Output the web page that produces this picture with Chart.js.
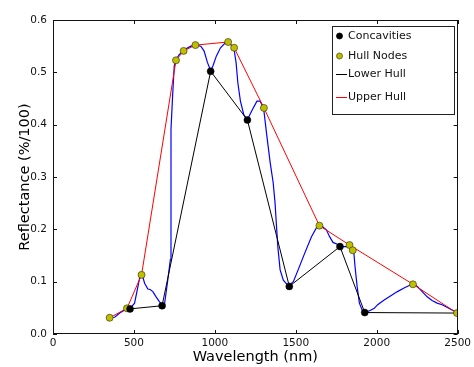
<!DOCTYPE html>
<html>
<head>
<meta charset="utf-8">
<script src="https://cdn.jsdelivr.net/npm/chart.js@4/dist/chart.umd.min.js"></script>
<style>
  html, body { margin: 0; padding: 0; background: #fff; }
  canvas { display: block; }
</style>
</head>
<body>
<canvas id="c" width="474" height="367"></canvas>
<script>
// Reflectance spectrum (wavelength in nm, reflectance as fraction)
const specNm = [350, 381, 412, 443, 474, 504, 525, 539, 551, 566, 586, 600, 617, 637, 657, 674, 688, 707, 725, 729, 739, 749, 760, 780, 811, 852, 882, 913, 933, 954, 974, 988, 1009, 1035, 1066, 1086, 1117, 1131, 1142, 1158, 1178, 1200, 1229, 1260, 1280, 1301, 1321, 1342, 1360, 1372, 1380, 1389, 1403, 1423, 1454, 1485, 1515, 1556, 1597, 1638, 1658, 1689, 1709, 1730, 1760, 1791, 1822, 1842, 1858, 1866, 1879, 1893, 1914, 1926, 1944, 1965, 1985, 2006, 2046, 2087, 2128, 2169, 2210, 2226, 2251, 2281, 2312, 2342, 2373, 2404, 2434, 2465, 2496];
const specR  = [0.031, 0.032, 0.040, 0.046, 0.048, 0.059, 0.091, 0.113, 0.113, 0.097, 0.086, 0.085, 0.081, 0.071, 0.062, 0.056, 0.055, 0.098, 0.142, 0.391, 0.455, 0.512, 0.524, 0.534, 0.543, 0.550, 0.552, 0.550, 0.541, 0.519, 0.503, 0.512, 0.531, 0.547, 0.557, 0.557, 0.547, 0.519, 0.480, 0.445, 0.420, 0.409, 0.427, 0.445, 0.445, 0.432, 0.379, 0.327, 0.290, 0.250, 0.210, 0.167, 0.123, 0.103, 0.092, 0.100, 0.123, 0.155, 0.186, 0.209, 0.207, 0.199, 0.186, 0.175, 0.171, 0.167, 0.167, 0.169, 0.158, 0.129, 0.091, 0.059, 0.043, 0.041, 0.043, 0.046, 0.049, 0.056, 0.065, 0.073, 0.081, 0.088, 0.094, 0.096, 0.091, 0.081, 0.071, 0.064, 0.059, 0.056, 0.051, 0.046, 0.041];

// Local minima of the spectrum relative to the hull
const concNm = [476, 674, 974, 1201, 1460, 1773, 1926];
const concR  = [0.048, 0.054, 0.502, 0.409, 0.091, 0.167, 0.041];

// Hull nodes
const nodeNm = [350, 457, 547, 760, 807, 880, 1082, 1119, 1303, 1646, 1832, 1852, 2224, 2496];
const nodeR  = [0.031, 0.049, 0.113, 0.523, 0.541, 0.552, 0.558, 0.547, 0.432, 0.207, 0.170, 0.160, 0.095, 0.040];

// Lower hull vertices
const lowerNm = [457, 476, 674, 974, 1201, 1460, 1773, 1926, 2496];
const lowerR  = [0.049, 0.048, 0.054, 0.502, 0.409, 0.091, 0.167, 0.041, 0.040];

// Upper hull vertices
const upperNm = [350, 457, 547, 760, 807, 880, 1082, 1119, 1303, 1646, 1832, 2224, 2496];
const upperR  = [0.031, 0.049, 0.113, 0.523, 0.541, 0.552, 0.558, 0.547, 0.432, 0.207, 0.170, 0.095, 0.040];

// Axis ticks
const xTicks = [0, 500, 1000, 1500, 2000, 2500];
const yTicks = [0.0, 0.1, 0.2, 0.3, 0.4, 0.5, 0.6];

const xyPairs = (xs, ys) => xs.map((x, i) => ({ x: x, y: ys[i] }));

const FONT = '"DejaVu Sans", "Liberation Sans", sans-serif';
const NODE_FILL = '#bfbf00';
const NODE_EDGE = 'rgba(40,40,0,0.75)';

// Frame, inward ticks, axis titles and legend
const decorations = {
  id: 'decorations',
  afterDatasetsDraw(chart) {
    const { ctx, chartArea: a, scales } = chart;
    const xs = scales.x, ys = scales.y;
    const tl = 4;
    ctx.save();
    ctx.strokeStyle = '#111';
    ctx.lineWidth = 1;
    ctx.beginPath();
    xTicks.forEach(v => {
      const px = Math.round(xs.getPixelForValue(v)) + 0.5;
      ctx.moveTo(px, a.bottom); ctx.lineTo(px, a.bottom - tl);
      ctx.moveTo(px, a.top); ctx.lineTo(px, a.top + tl);
    });
    yTicks.forEach(v => {
      const py = Math.round(ys.getPixelForValue(v)) + 0.5;
      ctx.moveTo(a.left, py); ctx.lineTo(a.left + tl, py);
      ctx.moveTo(a.right, py); ctx.lineTo(a.right - tl, py);
    });
    ctx.stroke();
    ctx.strokeRect(Math.round(a.left) + 0.5, Math.round(a.top) + 0.5,
                   Math.round(a.right - a.left) - 1, Math.round(a.bottom - a.top) - 1);

    // Axis titles
    ctx.fillStyle = '#000';
    ctx.font = '14.5px ' + FONT;
    ctx.textAlign = 'center';
    ctx.textBaseline = 'middle';
    ctx.fillText('Wavelength (nm)', (a.left + a.right) / 2, 357);
    ctx.save();
    ctx.translate(25, (a.top + a.bottom) / 2);
    ctx.rotate(-Math.PI / 2);
    ctx.fillText('Reflectance (%/100)', 0, 0);
    ctx.restore();

    // Legend
    const bx = 332, by = 26, bw = 122, bh = 88;
    ctx.fillStyle = '#fff';
    ctx.fillRect(bx, by, bw, bh);
    ctx.strokeStyle = '#222';
    ctx.strokeRect(bx + 0.5, by + 0.5, bw, bh);
    const items = [
      { label: 'Concavities', kind: 'dot', fill: '#000', edge: '#000', y: 36 },
      { label: 'Hull Nodes', kind: 'dot', fill: NODE_FILL, edge: NODE_EDGE, y: 56 },
      { label: 'Lower Hull', kind: 'line', color: '#000', y: 74 },
      { label: 'Upper Hull', kind: 'line', color: '#ff0000', y: 97 }
    ];
    ctx.font = '11px ' + FONT;
    ctx.textAlign = 'left';
    items.forEach(it => {
      if (it.kind === 'dot') {
        ctx.beginPath();
        ctx.arc(339.5, it.y, 3, 0, Math.PI * 2);
        ctx.fillStyle = it.fill;
        ctx.fill();
        ctx.strokeStyle = it.edge;
        ctx.lineWidth = 0.8;
        ctx.stroke();
      } else {
        ctx.beginPath();
        ctx.strokeStyle = it.color;
        ctx.lineWidth = 1;
        ctx.moveTo(336, it.y + 0.5);
        ctx.lineTo(347, it.y + 0.5);
        ctx.stroke();
      }
      ctx.fillStyle = '#111';
      ctx.fillText(it.label, 348, it.y + 0.5);
    });
    ctx.restore();
  }
};

new Chart(document.getElementById('c'), {
  type: 'scatter',
  data: {
    datasets: [
      {
        label: 'Concavities',
        data: xyPairs(concNm, concR),
        showLine: false,
        pointRadius: 3.5,
        pointBackgroundColor: '#000',
        pointBorderColor: '#000',
        pointBorderWidth: 0.5,
        order: 0
      },
      {
        label: 'Hull Nodes',
        data: xyPairs(nodeNm, nodeR),
        showLine: false,
        pointRadius: 3.5,
        pointBackgroundColor: NODE_FILL,
        pointBorderColor: NODE_EDGE,
        pointBorderWidth: 0.8,
        order: 1
      },
      {
        label: 'Lower Hull',
        data: xyPairs(lowerNm, lowerR),
        showLine: true,
        borderColor: '#000',
        borderWidth: 1,
        pointRadius: 0,
        tension: 0,
        order: 2
      },
      {
        label: 'Upper Hull',
        data: xyPairs(upperNm, upperR),
        showLine: true,
        borderColor: '#ff0000',
        borderWidth: 1,
        pointRadius: 0,
        tension: 0,
        order: 3
      },
      {
        label: 'Spectrum',
        data: xyPairs(specNm, specR),
        showLine: true,
        borderColor: '#0000ff',
        borderWidth: 1.2,
        pointRadius: 0,
        tension: 0,
        order: 4
      }
    ]
  },
  options: {
    responsive: false,
    animation: false,
    devicePixelRatio: 1,
    layout: { padding: { top: 20, right: 13, left: 0, bottom: 0 } },
    plugins: { legend: { display: false }, tooltip: { enabled: false } },
    scales: {
      x: {
        type: 'linear',
        min: 0, max: 2500,
        afterFit(scale) { scale.height = 33; },
        afterBuildTicks(scale) { scale.ticks = xTicks.map(v => ({ value: v })); },
        grid: { display: false, drawTicks: false },
        border: { display: false },
        ticks: {
          color: '#111',
          padding: 3,
          maxRotation: 0,
          autoSkip: false,
          font: { family: FONT, size: 10.5 },
          callback: v => String(v)
        }
      },
      y: {
        type: 'linear',
        min: 0, max: 0.6,
        afterFit(scale) { scale.width = 53; },
        afterBuildTicks(scale) { scale.ticks = yTicks.map(v => ({ value: v })); },
        grid: { display: false, drawTicks: false },
        border: { display: false },
        ticks: {
          color: '#111',
          padding: 6,
          autoSkip: false,
          font: { family: FONT, size: 10.5 },
          callback: v => Number(v).toFixed(1)
        }
      }
    }
  },
  plugins: [decorations]
});
</script>
</body>
</html>
